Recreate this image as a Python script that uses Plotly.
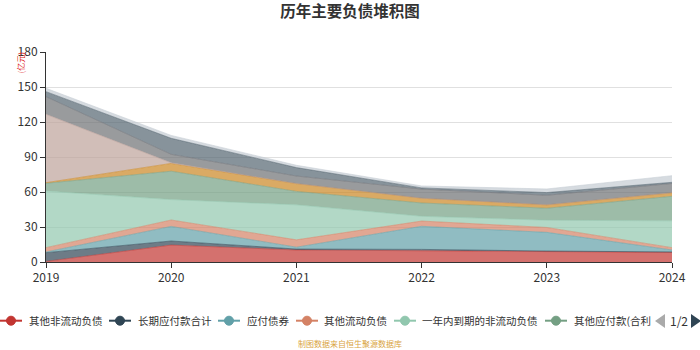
import plotly.graph_objects as go

years = [2019, 2020, 2021, 2022, 2023, 2024]
year_labels = ["2019", "2020", "2021", "2022", "2023", "2024"]

series_names = [
    "其他非流动负债", "长期应付款合计", "应付债券", "其他流动负债",
    "一年内到期的非流动负债", "其他应付款(合利息和股利)", "应付账款",
    "短期借款", "长期借款", "应付票据", "合同负债",
]
other_noncurrent = [0.5, 14.5, 10.3, 9.8, 8.7, 8.3]
long_term_payables = [7.5, 3.5, 0.8, 1.0, 0.7, 0.3]
bonds_payable = [0.6, 12.5, 1.6, 19.8, 16.0, 1.7]
other_current = [3.7, 5.5, 6.3, 4.5, 4.2, 2.0]
noncurrent_due_1y = [48.5, 17.5, 30.0, 4.1, 6.2, 23.0]
other_payables = [6.7, 24.3, 11.5, 11.4, 10.3, 21.0]
accounts_payable = [0.5, 6.7, 6.7, 4.1, 2.9, 3.0]
short_term_loans = [58.6, 0.5, 0.0, 0.0, 0.0, 0.0]
long_term_loans = [15.1, 7.3, 6.5, 7.8, 8.2, 8.0]
notes_payable = [4.3, 13.7, 7.2, 1.0, 2.3, 1.0]
contract_liabilities = [2.9, 2.5, 2.0, 1.7, 3.1, 5.7]

series_values = [
    other_noncurrent, long_term_payables, bonds_payable, other_current,
    noncurrent_due_1y, other_payables, accounts_payable, short_term_loans,
    long_term_loans, notes_payable, contract_liabilities,
]
colors = ["#c23531", "#2f4554", "#61a0a8", "#d48265", "#91c7ae", "#749f83",
          "#ca8622", "#bda29a", "#6e7074", "#546570", "#c4ccd3"]

legend_labels = ["其他非流动负债", "长期应付款合计", "应付债券", "其他流动负债",
                 "一年内到期的非流动负债", "其他应付款(合利"]

FONT = "Noto Sans CJK SC, Noto Sans, sans-serif"


def rgba(hex_color, a):
    h = hex_color.lstrip("#")
    r, g, b = int(h[0:2], 16), int(h[2:4], 16), int(h[4:6], 16)
    return f"rgba({r},{g},{b},{a})"


fig = go.Figure()
for name, vals, col in zip(series_names, series_values, colors):
    fig.add_trace(go.Scatter(
        x=years, y=vals, name=name, stackgroup="one", mode="lines",
        line=dict(width=1, color=rgba(col, 0.55)),
        fillcolor=rgba(col, 0.7), showlegend=False,
    ))

W, H = 700, 350
L, R, T, B = 46, 28, 52, 88
PW, PH = W - L - R, H - T - B


def px2x(px):
    return (px - L) / PW


def px2y(py):
    return (H - B - py) / PH


shapes = []
annotations = []

# manual legend (first page of a paged legend)
legend_y = 320.7
legend_items = [(11, 27), (120, 136), (229, 245), (307, 322), (405, 420), (556, 572)]
for (cx, tx), label, col in zip(legend_items, legend_labels, colors):
    shapes.append(dict(type="line", xref="paper", yref="paper",
                       x0=px2x(cx - 11), x1=px2x(cx + 11),
                       y0=px2y(legend_y), y1=px2y(legend_y),
                       line=dict(color=col, width=2)))
    r = 4.5
    shapes.append(dict(type="circle", xref="paper", yref="paper",
                       x0=px2x(cx - r), x1=px2x(cx + r),
                       y0=px2y(legend_y + r), y1=px2y(legend_y - r),
                       fillcolor=col, line=dict(color=col, width=1)))
    annotations.append(dict(text=label, xref="paper", yref="paper",
                            x=px2x(tx), y=px2y(legend_y), xanchor="left",
                            yanchor="middle", showarrow=False,
                            font=dict(family=FONT, size=10.5, color="#333")))

# page controls
shapes.append(dict(type="path", xref="paper", yref="paper",
                   path=f"M {px2x(665)} {px2y(314)} L {px2x(655)} {px2y(321)} L {px2x(665)} {px2y(328)} Z",
                   fillcolor="#aaaaaa", line=dict(width=0)))
shapes.append(dict(type="path", xref="paper", yref="paper",
                   path=f"M {px2x(691)} {px2y(314)} L {px2x(701)} {px2y(321)} L {px2x(691)} {px2y(328)} Z",
                   fillcolor="#2f4554", line=dict(width=0)))
annotations.append(dict(text="1/2", xref="paper", yref="paper",
                        x=px2x(679), y=px2y(legend_y), xanchor="center",
                        yanchor="middle", showarrow=False,
                        font=dict(family=FONT, size=12, color="#333")))

# unit label
annotations.append(dict(text="(亿元)", xref="paper", yref="paper",
                        x=px2x(19.5), y=px2y(63), xanchor="center",
                        yanchor="middle", showarrow=False, textangle=-90,
                        font=dict(family=FONT, size=8, color="#e02020")))

# source note
annotations.append(dict(text="制图数据来自恒生聚源数据库", xref="paper", yref="paper",
                        x=px2x(350), y=px2y(343), xanchor="center",
                        yanchor="middle", showarrow=False,
                        font=dict(family=FONT, size=8, color="#d9a441")))

fig.update_layout(
    width=W, height=H,
    margin=dict(l=L, r=R, t=T, b=B),
    paper_bgcolor="white", plot_bgcolor="white",
    title=dict(text="<b>历年主要负债堆积图</b>", x=0.5, xref="container",
               y=1 - 12 / H, yref="container", xanchor="center", yanchor="middle",
               font=dict(family=FONT, size=15.5, color="#333")),
    xaxis=dict(range=[years[0], years[-1]], tickvals=years, ticktext=year_labels,
               showline=True, linecolor="#333", linewidth=1,
               ticks="outside", ticklen=5, tickcolor="#333",
               showgrid=False, zeroline=False,
               tickfont=dict(family=FONT, size=12, color="#333")),
    yaxis=dict(range=[0, 180], tick0=0, dtick=30,
               showline=True, linecolor="#333", linewidth=1,
               ticks="outside", ticklen=5, tickcolor="#333",
               gridcolor="#e0e0e0", zeroline=False,
               tickfont=dict(family=FONT, size=12, color="#333")),
    shapes=shapes, annotations=annotations,
    showlegend=False,
)

fig.write_html("out.html")
